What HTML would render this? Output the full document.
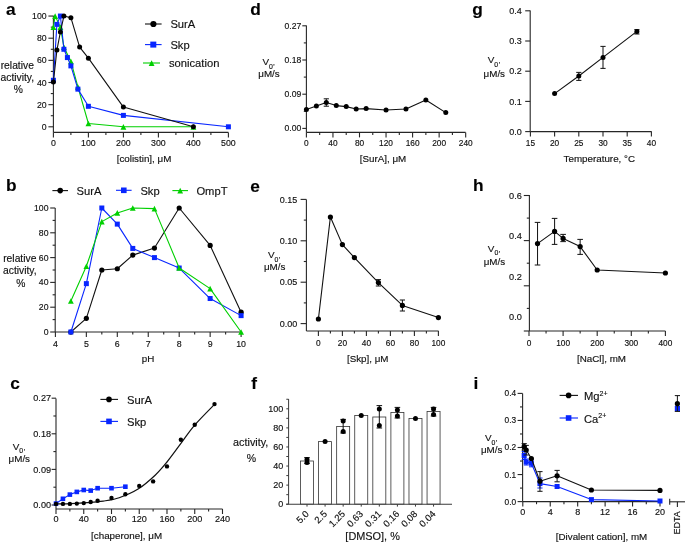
<!DOCTYPE html><html><head><meta charset="utf-8"><style>html,body{margin:0;padding:0;background:#fff;overflow:hidden}svg{display:block;will-change:transform}text{font-family:"Liberation Sans",sans-serif;stroke:#111;stroke-width:0.15px}</style></head><body>
<svg width="685" height="545" viewBox="0 0 685 545">
<rect width="685" height="545" fill="#fff"/>
<text x="5.90" y="15.30" font-size="17.3" text-anchor="start" fill="#000" font-weight="bold" >a</text>
<line x1="53.40" y1="15.80" x2="53.40" y2="132.40" stroke="#262626" stroke-width="1.1"/>
<line x1="48.40" y1="126.80" x2="53.40" y2="126.80" stroke="#262626" stroke-width="1.1"/>
<line x1="48.40" y1="104.65" x2="53.40" y2="104.65" stroke="#262626" stroke-width="1.1"/>
<line x1="48.40" y1="82.50" x2="53.40" y2="82.50" stroke="#262626" stroke-width="1.1"/>
<line x1="48.40" y1="60.35" x2="53.40" y2="60.35" stroke="#262626" stroke-width="1.1"/>
<line x1="48.40" y1="38.20" x2="53.40" y2="38.20" stroke="#262626" stroke-width="1.1"/>
<line x1="48.40" y1="16.05" x2="53.40" y2="16.05" stroke="#262626" stroke-width="1.1"/>
<line x1="50.80" y1="115.72" x2="53.40" y2="115.72" stroke="#262626" stroke-width="1.1"/>
<line x1="50.80" y1="93.58" x2="53.40" y2="93.58" stroke="#262626" stroke-width="1.1"/>
<line x1="50.80" y1="71.42" x2="53.40" y2="71.42" stroke="#262626" stroke-width="1.1"/>
<line x1="50.80" y1="49.28" x2="53.40" y2="49.28" stroke="#262626" stroke-width="1.1"/>
<line x1="50.80" y1="27.12" x2="53.40" y2="27.12" stroke="#262626" stroke-width="1.1"/>
<text x="46.60" y="129.89" font-size="8.7" text-anchor="end" fill="#111" font-weight="normal" >0</text>
<text x="46.60" y="107.74" font-size="8.7" text-anchor="end" fill="#111" font-weight="normal" >20</text>
<text x="46.60" y="85.59" font-size="8.7" text-anchor="end" fill="#111" font-weight="normal" >40</text>
<text x="46.60" y="63.44" font-size="8.7" text-anchor="end" fill="#111" font-weight="normal" >60</text>
<text x="46.60" y="41.29" font-size="8.7" text-anchor="end" fill="#111" font-weight="normal" >80</text>
<text x="46.60" y="19.14" font-size="8.7" text-anchor="end" fill="#111" font-weight="normal" >100</text>
<line x1="53.40" y1="132.40" x2="228.40" y2="132.40" stroke="#262626" stroke-width="1.1"/>
<line x1="53.40" y1="132.40" x2="53.40" y2="137.40" stroke="#262626" stroke-width="1.1"/>
<line x1="88.40" y1="132.40" x2="88.40" y2="137.40" stroke="#262626" stroke-width="1.1"/>
<line x1="123.40" y1="132.40" x2="123.40" y2="137.40" stroke="#262626" stroke-width="1.1"/>
<line x1="158.40" y1="132.40" x2="158.40" y2="137.40" stroke="#262626" stroke-width="1.1"/>
<line x1="193.40" y1="132.40" x2="193.40" y2="137.40" stroke="#262626" stroke-width="1.1"/>
<line x1="228.40" y1="132.40" x2="228.40" y2="137.40" stroke="#262626" stroke-width="1.1"/>
<line x1="70.90" y1="132.40" x2="70.90" y2="135.00" stroke="#262626" stroke-width="1.1"/>
<line x1="105.90" y1="132.40" x2="105.90" y2="135.00" stroke="#262626" stroke-width="1.1"/>
<line x1="140.90" y1="132.40" x2="140.90" y2="135.00" stroke="#262626" stroke-width="1.1"/>
<line x1="175.90" y1="132.40" x2="175.90" y2="135.00" stroke="#262626" stroke-width="1.1"/>
<line x1="210.90" y1="132.40" x2="210.90" y2="135.00" stroke="#262626" stroke-width="1.1"/>
<text x="53.40" y="146.20" font-size="8.8" text-anchor="middle" fill="#111" font-weight="normal" >0</text>
<text x="88.40" y="146.20" font-size="8.8" text-anchor="middle" fill="#111" font-weight="normal" >100</text>
<text x="123.40" y="146.20" font-size="8.8" text-anchor="middle" fill="#111" font-weight="normal" >200</text>
<text x="158.40" y="146.20" font-size="8.8" text-anchor="middle" fill="#111" font-weight="normal" >300</text>
<text x="193.40" y="146.20" font-size="8.8" text-anchor="middle" fill="#111" font-weight="normal" >400</text>
<text x="228.40" y="146.20" font-size="8.8" text-anchor="middle" fill="#111" font-weight="normal" >500</text>
<text x="144.00" y="161.50" font-size="9.8" text-anchor="middle" fill="#111" font-weight="normal" >[colistin], μM</text>
<text x="17.30" y="68.50" font-size="10.3" text-anchor="middle" fill="#111" font-weight="normal" >relative</text>
<text x="17.30" y="80.50" font-size="10.3" text-anchor="middle" fill="#111" font-weight="normal" >activity,</text>
<text x="18.40" y="92.50" font-size="10.3" text-anchor="middle" fill="#111" font-weight="normal" >%</text>
<polyline points="53.40,27.12 55.15,16.05 60.40,27.12 63.90,47.06 70.90,61.46 77.90,86.93 88.40,123.48 123.40,126.80 193.40,126.80" fill="none" stroke="#00d000" stroke-width="1.1" stroke-linejoin="round"/>
<polygon points="53.40,24.28 56.30,29.97 50.50,29.97" fill="#00d000"/>
<polygon points="55.15,13.21 58.05,18.89 52.25,18.89" fill="#00d000"/>
<polygon points="60.40,24.28 63.30,29.97 57.50,29.97" fill="#00d000"/>
<polygon points="63.90,44.22 66.80,49.90 61.00,49.90" fill="#00d000"/>
<polygon points="70.90,58.62 73.80,64.30 68.00,64.30" fill="#00d000"/>
<polygon points="77.90,84.09 80.80,89.77 75.00,89.77" fill="#00d000"/>
<polygon points="88.40,120.64 91.30,126.32 85.50,126.32" fill="#00d000"/>
<polygon points="123.40,123.96 126.30,129.64 120.50,129.64" fill="#00d000"/>
<polygon points="193.40,123.96 196.30,129.64 190.50,129.64" fill="#00d000"/>
<polyline points="53.40,80.28 56.90,24.36 60.40,16.05 63.90,49.28 67.40,57.58 70.90,65.89 77.90,89.14 88.40,106.31 123.40,115.39 228.40,126.80" fill="none" stroke="#0826ff" stroke-width="1.1" stroke-linejoin="round"/>
<rect x="50.90" y="77.78" width="5.0" height="5.0" fill="#0826ff"/>
<rect x="54.40" y="21.86" width="5.0" height="5.0" fill="#0826ff"/>
<rect x="57.90" y="13.55" width="5.0" height="5.0" fill="#0826ff"/>
<rect x="61.40" y="46.78" width="5.0" height="5.0" fill="#0826ff"/>
<rect x="64.90" y="55.08" width="5.0" height="5.0" fill="#0826ff"/>
<rect x="68.40" y="63.39" width="5.0" height="5.0" fill="#0826ff"/>
<rect x="75.40" y="86.64" width="5.0" height="5.0" fill="#0826ff"/>
<rect x="85.90" y="103.81" width="5.0" height="5.0" fill="#0826ff"/>
<rect x="120.90" y="112.89" width="5.0" height="5.0" fill="#0826ff"/>
<rect x="225.90" y="124.30" width="5.0" height="5.0" fill="#0826ff"/>
<polyline points="53.40,81.95 56.90,50.05 60.40,32.00 63.90,16.05 70.90,17.71 79.65,47.06 88.40,58.14 123.40,107.09 193.40,126.80" fill="none" stroke="#111" stroke-width="1.1" stroke-linejoin="round"/>
<circle cx="53.40" cy="81.95" r="2.5" fill="#000"/>
<circle cx="56.90" cy="50.05" r="2.5" fill="#000"/>
<circle cx="60.40" cy="32.00" r="2.5" fill="#000"/>
<circle cx="63.90" cy="16.05" r="2.5" fill="#000"/>
<circle cx="70.90" cy="17.71" r="2.5" fill="#000"/>
<circle cx="79.65" cy="47.06" r="2.5" fill="#000"/>
<circle cx="88.40" cy="58.14" r="2.5" fill="#000"/>
<circle cx="123.40" cy="107.09" r="2.5" fill="#000"/>
<circle cx="193.40" cy="126.80" r="2.5" fill="#000"/>
<line x1="145.00" y1="24.00" x2="161.60" y2="24.00" stroke="#111" stroke-width="1.1"/>
<circle cx="153.40" cy="24.00" r="3.1" fill="#000"/>
<text x="170.40" y="28.10" font-size="11.2" text-anchor="start" fill="#111" font-weight="normal" >SurA</text>
<line x1="145.00" y1="44.60" x2="161.60" y2="44.60" stroke="#0826ff" stroke-width="1.1"/>
<rect x="150.30" y="41.60" width="6.0" height="6.0" fill="#0826ff"/>
<text x="170.40" y="48.70" font-size="11.2" text-anchor="start" fill="#111" font-weight="normal" >Skp</text>
<line x1="143.00" y1="63.00" x2="160.00" y2="63.00" stroke="#00d000" stroke-width="1.1"/>
<polygon points="151.60,60.36 154.50,66.04 148.70,66.04" fill="#00d000"/>
<text x="169.00" y="67.30" font-size="11.2" text-anchor="start" fill="#111" font-weight="normal" >sonication</text>
<text x="5.90" y="190.60" font-size="17.3" text-anchor="start" fill="#000" font-weight="bold" >b</text>
<line x1="55.20" y1="208.00" x2="55.20" y2="332.00" stroke="#262626" stroke-width="1.1"/>
<line x1="50.20" y1="332.00" x2="55.20" y2="332.00" stroke="#262626" stroke-width="1.1"/>
<line x1="50.20" y1="307.20" x2="55.20" y2="307.20" stroke="#262626" stroke-width="1.1"/>
<line x1="50.20" y1="282.40" x2="55.20" y2="282.40" stroke="#262626" stroke-width="1.1"/>
<line x1="50.20" y1="257.60" x2="55.20" y2="257.60" stroke="#262626" stroke-width="1.1"/>
<line x1="50.20" y1="232.80" x2="55.20" y2="232.80" stroke="#262626" stroke-width="1.1"/>
<line x1="50.20" y1="208.00" x2="55.20" y2="208.00" stroke="#262626" stroke-width="1.1"/>
<line x1="52.60" y1="319.60" x2="55.20" y2="319.60" stroke="#262626" stroke-width="1.1"/>
<line x1="52.60" y1="294.80" x2="55.20" y2="294.80" stroke="#262626" stroke-width="1.1"/>
<line x1="52.60" y1="270.00" x2="55.20" y2="270.00" stroke="#262626" stroke-width="1.1"/>
<line x1="52.60" y1="245.20" x2="55.20" y2="245.20" stroke="#262626" stroke-width="1.1"/>
<line x1="52.60" y1="220.40" x2="55.20" y2="220.40" stroke="#262626" stroke-width="1.1"/>
<text x="48.50" y="335.09" font-size="8.7" text-anchor="end" fill="#111" font-weight="normal" >0</text>
<text x="48.50" y="310.29" font-size="8.7" text-anchor="end" fill="#111" font-weight="normal" >20</text>
<text x="48.50" y="285.49" font-size="8.7" text-anchor="end" fill="#111" font-weight="normal" >40</text>
<text x="48.50" y="260.69" font-size="8.7" text-anchor="end" fill="#111" font-weight="normal" >60</text>
<text x="48.50" y="235.89" font-size="8.7" text-anchor="end" fill="#111" font-weight="normal" >80</text>
<text x="48.50" y="211.09" font-size="8.7" text-anchor="end" fill="#111" font-weight="normal" >100</text>
<line x1="55.20" y1="332.00" x2="241.40" y2="332.00" stroke="#262626" stroke-width="1.1"/>
<line x1="55.40" y1="332.00" x2="55.40" y2="337.00" stroke="#262626" stroke-width="1.1"/>
<line x1="86.35" y1="332.00" x2="86.35" y2="337.00" stroke="#262626" stroke-width="1.1"/>
<line x1="117.30" y1="332.00" x2="117.30" y2="337.00" stroke="#262626" stroke-width="1.1"/>
<line x1="148.25" y1="332.00" x2="148.25" y2="337.00" stroke="#262626" stroke-width="1.1"/>
<line x1="179.20" y1="332.00" x2="179.20" y2="337.00" stroke="#262626" stroke-width="1.1"/>
<line x1="210.15" y1="332.00" x2="210.15" y2="337.00" stroke="#262626" stroke-width="1.1"/>
<line x1="241.10" y1="332.00" x2="241.10" y2="337.00" stroke="#262626" stroke-width="1.1"/>
<line x1="70.88" y1="332.00" x2="70.88" y2="334.60" stroke="#262626" stroke-width="1.1"/>
<line x1="101.82" y1="332.00" x2="101.82" y2="334.60" stroke="#262626" stroke-width="1.1"/>
<line x1="132.78" y1="332.00" x2="132.78" y2="334.60" stroke="#262626" stroke-width="1.1"/>
<line x1="163.72" y1="332.00" x2="163.72" y2="334.60" stroke="#262626" stroke-width="1.1"/>
<line x1="194.68" y1="332.00" x2="194.68" y2="334.60" stroke="#262626" stroke-width="1.1"/>
<line x1="225.62" y1="332.00" x2="225.62" y2="334.60" stroke="#262626" stroke-width="1.1"/>
<text x="55.40" y="346.60" font-size="8.8" text-anchor="middle" fill="#111" font-weight="normal" >4</text>
<text x="86.35" y="346.60" font-size="8.8" text-anchor="middle" fill="#111" font-weight="normal" >5</text>
<text x="117.30" y="346.60" font-size="8.8" text-anchor="middle" fill="#111" font-weight="normal" >6</text>
<text x="148.25" y="346.60" font-size="8.8" text-anchor="middle" fill="#111" font-weight="normal" >7</text>
<text x="179.20" y="346.60" font-size="8.8" text-anchor="middle" fill="#111" font-weight="normal" >8</text>
<text x="210.15" y="346.60" font-size="8.8" text-anchor="middle" fill="#111" font-weight="normal" >9</text>
<text x="241.10" y="346.60" font-size="8.8" text-anchor="middle" fill="#111" font-weight="normal" >10</text>
<text x="148.00" y="361.50" font-size="9.8" text-anchor="middle" fill="#111" font-weight="normal" >pH</text>
<text x="19.80" y="261.50" font-size="10.3" text-anchor="middle" fill="#111" font-weight="normal" >relative</text>
<text x="19.80" y="274.00" font-size="10.3" text-anchor="middle" fill="#111" font-weight="normal" >activity,</text>
<text x="20.90" y="286.50" font-size="10.3" text-anchor="middle" fill="#111" font-weight="normal" >%</text>
<polyline points="70.88,332.00 86.35,318.36 101.82,270.00 117.30,268.76 132.78,255.12 154.44,248.05 179.20,208.00 210.15,245.45 241.10,312.16" fill="none" stroke="#111" stroke-width="1.1" stroke-linejoin="round"/>
<circle cx="70.88" cy="332.00" r="2.6" fill="#000"/>
<circle cx="86.35" cy="318.36" r="2.6" fill="#000"/>
<circle cx="101.82" cy="270.00" r="2.6" fill="#000"/>
<circle cx="117.30" cy="268.76" r="2.6" fill="#000"/>
<circle cx="132.78" cy="255.12" r="2.6" fill="#000"/>
<circle cx="154.44" cy="248.05" r="2.6" fill="#000"/>
<circle cx="179.20" cy="208.00" r="2.6" fill="#000"/>
<circle cx="210.15" cy="245.45" r="2.6" fill="#000"/>
<circle cx="241.10" cy="312.16" r="2.6" fill="#000"/>
<polyline points="70.88,332.00 86.35,283.64 101.82,208.00 117.30,224.12 132.78,248.42 154.44,257.60 179.20,268.02 210.15,298.52 241.10,315.63" fill="none" stroke="#0826ff" stroke-width="1.1" stroke-linejoin="round"/>
<rect x="68.38" y="329.50" width="5.0" height="5.0" fill="#0826ff"/>
<rect x="83.85" y="281.14" width="5.0" height="5.0" fill="#0826ff"/>
<rect x="99.32" y="205.50" width="5.0" height="5.0" fill="#0826ff"/>
<rect x="114.80" y="221.62" width="5.0" height="5.0" fill="#0826ff"/>
<rect x="130.28" y="245.92" width="5.0" height="5.0" fill="#0826ff"/>
<rect x="151.94" y="255.10" width="5.0" height="5.0" fill="#0826ff"/>
<rect x="176.70" y="265.52" width="5.0" height="5.0" fill="#0826ff"/>
<rect x="207.65" y="296.02" width="5.0" height="5.0" fill="#0826ff"/>
<rect x="238.60" y="313.13" width="5.0" height="5.0" fill="#0826ff"/>
<polyline points="70.88,301.00 86.35,266.28 101.82,221.64 117.30,212.96 132.78,208.00 154.44,208.62 179.20,268.02 210.15,288.60 241.10,332.00" fill="none" stroke="#00d000" stroke-width="1.1" stroke-linejoin="round"/>
<polygon points="70.88,298.16 73.78,303.84 67.97,303.84" fill="#00d000"/>
<polygon points="86.35,263.44 89.25,269.12 83.45,269.12" fill="#00d000"/>
<polygon points="101.82,218.80 104.72,224.48 98.92,224.48" fill="#00d000"/>
<polygon points="117.30,210.12 120.20,215.80 114.40,215.80" fill="#00d000"/>
<polygon points="132.78,205.16 135.68,210.84 129.88,210.84" fill="#00d000"/>
<polygon points="154.44,205.78 157.34,211.46 151.54,211.46" fill="#00d000"/>
<polygon points="179.20,265.17 182.10,270.86 176.30,270.86" fill="#00d000"/>
<polygon points="210.15,285.76 213.05,291.44 207.25,291.44" fill="#00d000"/>
<polygon points="241.10,329.16 244.00,334.84 238.20,334.84" fill="#00d000"/>
<line x1="52.40" y1="190.60" x2="68.00" y2="190.60" stroke="#111" stroke-width="1.1"/>
<circle cx="60.20" cy="190.60" r="2.8" fill="#000"/>
<text x="76.60" y="194.80" font-size="11.2" text-anchor="start" fill="#111" font-weight="normal" >SurA</text>
<line x1="116.00" y1="190.30" x2="131.60" y2="190.30" stroke="#0826ff" stroke-width="1.1"/>
<rect x="121.00" y="187.50" width="5.6" height="5.6" fill="#0826ff"/>
<text x="140.40" y="194.50" font-size="11.2" text-anchor="start" fill="#111" font-weight="normal" >Skp</text>
<line x1="172.40" y1="190.60" x2="188.00" y2="190.60" stroke="#00d000" stroke-width="1.1"/>
<polygon points="180.20,187.76 183.10,193.44 177.30,193.44" fill="#00d000"/>
<text x="196.40" y="194.80" font-size="11.2" text-anchor="start" fill="#111" font-weight="normal" >OmpT</text>
<text x="10.20" y="388.80" font-size="17.3" text-anchor="start" fill="#000" font-weight="bold" >c</text>
<line x1="56.00" y1="398.40" x2="56.00" y2="509.00" stroke="#262626" stroke-width="1.1"/>
<line x1="51.60" y1="505.00" x2="56.00" y2="505.00" stroke="#262626" stroke-width="1.1"/>
<line x1="51.60" y1="469.40" x2="56.00" y2="469.40" stroke="#262626" stroke-width="1.1"/>
<line x1="51.60" y1="433.79" x2="56.00" y2="433.79" stroke="#262626" stroke-width="1.1"/>
<line x1="51.60" y1="398.19" x2="56.00" y2="398.19" stroke="#262626" stroke-width="1.1"/>
<line x1="53.40" y1="487.20" x2="56.00" y2="487.20" stroke="#262626" stroke-width="1.1"/>
<line x1="53.40" y1="451.59" x2="56.00" y2="451.59" stroke="#262626" stroke-width="1.1"/>
<line x1="53.40" y1="415.99" x2="56.00" y2="415.99" stroke="#262626" stroke-width="1.1"/>
<text x="51.00" y="508.23" font-size="9.1" text-anchor="end" fill="#111" font-weight="normal" >0.00</text>
<text x="51.00" y="472.63" font-size="9.1" text-anchor="end" fill="#111" font-weight="normal" >0.09</text>
<text x="51.00" y="437.02" font-size="9.1" text-anchor="end" fill="#111" font-weight="normal" >0.18</text>
<text x="51.00" y="401.42" font-size="9.1" text-anchor="end" fill="#111" font-weight="normal" >0.27</text>
<line x1="56.00" y1="509.00" x2="222.50" y2="509.00" stroke="#262626" stroke-width="1.1"/>
<line x1="56.00" y1="509.00" x2="56.00" y2="514.00" stroke="#262626" stroke-width="1.1"/>
<line x1="83.75" y1="509.00" x2="83.75" y2="514.00" stroke="#262626" stroke-width="1.1"/>
<line x1="111.50" y1="509.00" x2="111.50" y2="514.00" stroke="#262626" stroke-width="1.1"/>
<line x1="139.24" y1="509.00" x2="139.24" y2="514.00" stroke="#262626" stroke-width="1.1"/>
<line x1="166.99" y1="509.00" x2="166.99" y2="514.00" stroke="#262626" stroke-width="1.1"/>
<line x1="194.74" y1="509.00" x2="194.74" y2="514.00" stroke="#262626" stroke-width="1.1"/>
<line x1="222.49" y1="509.00" x2="222.49" y2="514.00" stroke="#262626" stroke-width="1.1"/>
<line x1="69.87" y1="509.00" x2="69.87" y2="511.60" stroke="#262626" stroke-width="1.1"/>
<line x1="97.62" y1="509.00" x2="97.62" y2="511.60" stroke="#262626" stroke-width="1.1"/>
<line x1="125.37" y1="509.00" x2="125.37" y2="511.60" stroke="#262626" stroke-width="1.1"/>
<line x1="153.12" y1="509.00" x2="153.12" y2="511.60" stroke="#262626" stroke-width="1.1"/>
<line x1="180.87" y1="509.00" x2="180.87" y2="511.60" stroke="#262626" stroke-width="1.1"/>
<line x1="208.61" y1="509.00" x2="208.61" y2="511.60" stroke="#262626" stroke-width="1.1"/>
<text x="56.00" y="521.90" font-size="9.1" text-anchor="middle" fill="#111" font-weight="normal" >0</text>
<text x="83.75" y="521.90" font-size="9.1" text-anchor="middle" fill="#111" font-weight="normal" >40</text>
<text x="111.50" y="521.90" font-size="9.1" text-anchor="middle" fill="#111" font-weight="normal" >80</text>
<text x="139.24" y="521.90" font-size="9.1" text-anchor="middle" fill="#111" font-weight="normal" >120</text>
<text x="166.99" y="521.90" font-size="9.1" text-anchor="middle" fill="#111" font-weight="normal" >160</text>
<text x="194.74" y="521.90" font-size="9.1" text-anchor="middle" fill="#111" font-weight="normal" >200</text>
<text x="222.49" y="521.90" font-size="9.1" text-anchor="middle" fill="#111" font-weight="normal" >240</text>
<text x="126.60" y="539.30" font-size="9.8" text-anchor="middle" fill="#111" font-weight="normal" >[chaperone], μM</text>
<text x="12.70" y="449.90" font-size="9.9" text-anchor="start" fill="#111">V<tspan font-size="6.9" dy="3.3">0</tspan><tspan font-size="6.9" dy="0.5" dx="0.5">'</tspan></text>
<text x="19.30" y="461.90" font-size="9.8" text-anchor="middle" fill="#111" font-weight="normal" >μM/s</text>
<polyline points="56.00,503.60 62.94,498.80 69.87,494.60 76.81,491.90 83.75,490.00 90.69,490.60 97.62,488.20 111.50,488.20 125.37,486.70" fill="none" stroke="#0826ff" stroke-width="1.1" stroke-linejoin="round"/>
<rect x="53.70" y="501.30" width="4.6" height="4.6" fill="#0826ff"/>
<rect x="60.64" y="496.50" width="4.6" height="4.6" fill="#0826ff"/>
<rect x="67.57" y="492.30" width="4.6" height="4.6" fill="#0826ff"/>
<rect x="74.51" y="489.60" width="4.6" height="4.6" fill="#0826ff"/>
<rect x="81.45" y="487.70" width="4.6" height="4.6" fill="#0826ff"/>
<rect x="88.39" y="488.30" width="4.6" height="4.6" fill="#0826ff"/>
<rect x="95.32" y="485.90" width="4.6" height="4.6" fill="#0826ff"/>
<rect x="109.20" y="485.90" width="4.6" height="4.6" fill="#0826ff"/>
<rect x="123.07" y="484.40" width="4.6" height="4.6" fill="#0826ff"/>
<path d="M56.00,503.90 C58.50,503.85 65.82,503.80 71.00,503.60 C76.18,503.40 81.73,503.12 87.10,502.70 C92.47,502.28 97.85,501.93 103.20,501.10 C108.55,500.27 113.32,499.75 119.20,497.70 C125.08,495.65 132.47,492.58 138.50,488.80 C144.53,485.02 150.72,479.38 155.40,475.00 C160.08,470.62 162.28,467.85 166.60,462.50 C170.92,457.15 176.65,449.10 181.30,442.90 C185.95,436.70 188.88,431.80 194.50,425.30 C200.12,418.80 211.58,407.47 215.00,403.90" fill="none" stroke="#111" stroke-width="1.2"/>
<circle cx="56.00" cy="503.90" r="2.2" fill="#000"/>
<circle cx="62.94" cy="503.90" r="2.2" fill="#000"/>
<circle cx="69.87" cy="503.90" r="2.2" fill="#000"/>
<circle cx="76.81" cy="503.60" r="2.2" fill="#000"/>
<circle cx="83.75" cy="503.10" r="2.2" fill="#000"/>
<circle cx="90.69" cy="502.00" r="2.2" fill="#000"/>
<circle cx="97.62" cy="500.70" r="2.2" fill="#000"/>
<circle cx="111.50" cy="498.00" r="2.2" fill="#000"/>
<circle cx="125.37" cy="494.30" r="2.2" fill="#000"/>
<circle cx="139.24" cy="485.90" r="2.2" fill="#000"/>
<circle cx="153.12" cy="481.40" r="2.2" fill="#000"/>
<circle cx="166.99" cy="466.40" r="2.2" fill="#000"/>
<circle cx="180.87" cy="439.80" r="2.2" fill="#000"/>
<circle cx="194.74" cy="424.80" r="2.2" fill="#000"/>
<circle cx="214.51" cy="404.10" r="2.2" fill="#000"/>
<line x1="100.40" y1="399.40" x2="118.00" y2="399.40" stroke="#111" stroke-width="1.1"/>
<circle cx="109.00" cy="399.40" r="2.8" fill="#000"/>
<text x="127.00" y="404.00" font-size="11.2" text-anchor="start" fill="#111" font-weight="normal" >SurA</text>
<line x1="100.40" y1="421.40" x2="118.00" y2="421.40" stroke="#0826ff" stroke-width="1.1"/>
<rect x="106.20" y="418.60" width="5.6" height="5.6" fill="#0826ff"/>
<text x="127.00" y="426.00" font-size="11.2" text-anchor="start" fill="#111" font-weight="normal" >Skp</text>
<text x="250.20" y="15.30" font-size="17.3" text-anchor="start" fill="#000" font-weight="bold" >d</text>
<line x1="306.40" y1="25.60" x2="306.40" y2="132.40" stroke="#262626" stroke-width="1.1"/>
<line x1="302.30" y1="128.40" x2="306.40" y2="128.40" stroke="#262626" stroke-width="1.1"/>
<line x1="302.30" y1="94.20" x2="306.40" y2="94.20" stroke="#262626" stroke-width="1.1"/>
<line x1="302.30" y1="60.00" x2="306.40" y2="60.00" stroke="#262626" stroke-width="1.1"/>
<line x1="302.30" y1="25.80" x2="306.40" y2="25.80" stroke="#262626" stroke-width="1.1"/>
<line x1="303.80" y1="111.30" x2="306.40" y2="111.30" stroke="#262626" stroke-width="1.1"/>
<line x1="303.80" y1="77.10" x2="306.40" y2="77.10" stroke="#262626" stroke-width="1.1"/>
<line x1="303.80" y1="42.90" x2="306.40" y2="42.90" stroke="#262626" stroke-width="1.1"/>
<text x="301.30" y="131.45" font-size="8.6" text-anchor="end" fill="#111" font-weight="normal" >0.00</text>
<text x="301.30" y="97.25" font-size="8.6" text-anchor="end" fill="#111" font-weight="normal" >0.09</text>
<text x="301.30" y="63.05" font-size="8.6" text-anchor="end" fill="#111" font-weight="normal" >0.18</text>
<text x="301.30" y="28.85" font-size="8.6" text-anchor="end" fill="#111" font-weight="normal" >0.27</text>
<line x1="306.40" y1="132.40" x2="465.60" y2="132.40" stroke="#262626" stroke-width="1.1"/>
<line x1="306.40" y1="132.40" x2="306.40" y2="137.40" stroke="#262626" stroke-width="1.1"/>
<line x1="332.95" y1="132.40" x2="332.95" y2="137.40" stroke="#262626" stroke-width="1.1"/>
<line x1="359.50" y1="132.40" x2="359.50" y2="137.40" stroke="#262626" stroke-width="1.1"/>
<line x1="386.04" y1="132.40" x2="386.04" y2="137.40" stroke="#262626" stroke-width="1.1"/>
<line x1="412.59" y1="132.40" x2="412.59" y2="137.40" stroke="#262626" stroke-width="1.1"/>
<line x1="439.14" y1="132.40" x2="439.14" y2="137.40" stroke="#262626" stroke-width="1.1"/>
<line x1="465.69" y1="132.40" x2="465.69" y2="137.40" stroke="#262626" stroke-width="1.1"/>
<line x1="319.67" y1="132.40" x2="319.67" y2="135.00" stroke="#262626" stroke-width="1.1"/>
<line x1="346.22" y1="132.40" x2="346.22" y2="135.00" stroke="#262626" stroke-width="1.1"/>
<line x1="372.77" y1="132.40" x2="372.77" y2="135.00" stroke="#262626" stroke-width="1.1"/>
<line x1="399.32" y1="132.40" x2="399.32" y2="135.00" stroke="#262626" stroke-width="1.1"/>
<line x1="425.87" y1="132.40" x2="425.87" y2="135.00" stroke="#262626" stroke-width="1.1"/>
<line x1="452.41" y1="132.40" x2="452.41" y2="135.00" stroke="#262626" stroke-width="1.1"/>
<text x="306.40" y="146.00" font-size="8.3" text-anchor="middle" fill="#111" font-weight="normal" >0</text>
<text x="332.95" y="146.00" font-size="8.3" text-anchor="middle" fill="#111" font-weight="normal" >40</text>
<text x="359.50" y="146.00" font-size="8.3" text-anchor="middle" fill="#111" font-weight="normal" >80</text>
<text x="386.04" y="146.00" font-size="8.3" text-anchor="middle" fill="#111" font-weight="normal" >120</text>
<text x="412.59" y="146.00" font-size="8.3" text-anchor="middle" fill="#111" font-weight="normal" >160</text>
<text x="439.14" y="146.00" font-size="8.3" text-anchor="middle" fill="#111" font-weight="normal" >200</text>
<text x="465.69" y="146.00" font-size="8.3" text-anchor="middle" fill="#111" font-weight="normal" >240</text>
<text x="383.00" y="161.50" font-size="9.8" text-anchor="middle" fill="#111" font-weight="normal" >[SurA], μM</text>
<text x="262.40" y="65.40" font-size="9.9" text-anchor="start" fill="#111">V<tspan font-size="6.9" dy="3.3">0</tspan><tspan font-size="6.9" dy="0.5" dx="0.5">'</tspan></text>
<text x="269.00" y="76.90" font-size="9.8" text-anchor="middle" fill="#111" font-weight="normal" >μM/s</text>
<polyline points="306.40,109.40 316.36,106.00 326.31,102.40 336.27,105.60 346.22,106.60 356.18,109.00 366.13,108.60 386.04,110.00 405.95,109.00 425.87,100.00 445.78,112.60" fill="none" stroke="#111" stroke-width="1.1" stroke-linejoin="round"/>
<line x1="326.31" y1="98.80" x2="326.31" y2="106.20" stroke="#1a1a1a" stroke-width="1.05"/>
<line x1="323.71" y1="98.80" x2="328.91" y2="98.80" stroke="#1a1a1a" stroke-width="1.05"/>
<line x1="323.71" y1="106.20" x2="328.91" y2="106.20" stroke="#1a1a1a" stroke-width="1.05"/>
<circle cx="306.40" cy="109.40" r="2.5" fill="#000"/>
<circle cx="316.36" cy="106.00" r="2.5" fill="#000"/>
<circle cx="326.31" cy="102.40" r="2.5" fill="#000"/>
<circle cx="336.27" cy="105.60" r="2.5" fill="#000"/>
<circle cx="346.22" cy="106.60" r="2.5" fill="#000"/>
<circle cx="356.18" cy="109.00" r="2.5" fill="#000"/>
<circle cx="366.13" cy="108.60" r="2.5" fill="#000"/>
<circle cx="386.04" cy="110.00" r="2.5" fill="#000"/>
<circle cx="405.95" cy="109.00" r="2.5" fill="#000"/>
<circle cx="425.87" cy="100.00" r="2.5" fill="#000"/>
<circle cx="445.78" cy="112.60" r="2.5" fill="#000"/>
<text x="250.30" y="191.70" font-size="17.3" text-anchor="start" fill="#000" font-weight="bold" >e</text>
<line x1="306.40" y1="199.60" x2="306.40" y2="331.00" stroke="#262626" stroke-width="1.1"/>
<line x1="300.60" y1="323.60" x2="306.40" y2="323.60" stroke="#262626" stroke-width="1.1"/>
<line x1="300.60" y1="282.20" x2="306.40" y2="282.20" stroke="#262626" stroke-width="1.1"/>
<line x1="300.60" y1="240.80" x2="306.40" y2="240.80" stroke="#262626" stroke-width="1.1"/>
<line x1="300.60" y1="199.40" x2="306.40" y2="199.40" stroke="#262626" stroke-width="1.1"/>
<line x1="303.80" y1="302.90" x2="306.40" y2="302.90" stroke="#262626" stroke-width="1.1"/>
<line x1="303.80" y1="261.50" x2="306.40" y2="261.50" stroke="#262626" stroke-width="1.1"/>
<line x1="303.80" y1="220.10" x2="306.40" y2="220.10" stroke="#262626" stroke-width="1.1"/>
<text x="297.30" y="326.80" font-size="9.0" text-anchor="end" fill="#111" font-weight="normal" >0.00</text>
<text x="297.30" y="285.40" font-size="9.0" text-anchor="end" fill="#111" font-weight="normal" >0.05</text>
<text x="297.30" y="244.00" font-size="9.0" text-anchor="end" fill="#111" font-weight="normal" >0.10</text>
<text x="297.30" y="202.59" font-size="9.0" text-anchor="end" fill="#111" font-weight="normal" >0.15</text>
<line x1="306.40" y1="331.00" x2="438.60" y2="331.00" stroke="#262626" stroke-width="1.1"/>
<line x1="318.40" y1="331.00" x2="318.40" y2="336.00" stroke="#262626" stroke-width="1.1"/>
<line x1="342.40" y1="331.00" x2="342.40" y2="336.00" stroke="#262626" stroke-width="1.1"/>
<line x1="366.40" y1="331.00" x2="366.40" y2="336.00" stroke="#262626" stroke-width="1.1"/>
<line x1="390.40" y1="331.00" x2="390.40" y2="336.00" stroke="#262626" stroke-width="1.1"/>
<line x1="414.40" y1="331.00" x2="414.40" y2="336.00" stroke="#262626" stroke-width="1.1"/>
<line x1="438.40" y1="331.00" x2="438.40" y2="336.00" stroke="#262626" stroke-width="1.1"/>
<line x1="330.40" y1="331.00" x2="330.40" y2="333.60" stroke="#262626" stroke-width="1.1"/>
<line x1="354.40" y1="331.00" x2="354.40" y2="333.60" stroke="#262626" stroke-width="1.1"/>
<line x1="378.40" y1="331.00" x2="378.40" y2="333.60" stroke="#262626" stroke-width="1.1"/>
<line x1="402.40" y1="331.00" x2="402.40" y2="333.60" stroke="#262626" stroke-width="1.1"/>
<line x1="426.40" y1="331.00" x2="426.40" y2="333.60" stroke="#262626" stroke-width="1.1"/>
<text x="318.40" y="346.00" font-size="8.3" text-anchor="middle" fill="#111" font-weight="normal" >0</text>
<text x="342.40" y="346.00" font-size="8.3" text-anchor="middle" fill="#111" font-weight="normal" >20</text>
<text x="366.40" y="346.00" font-size="8.3" text-anchor="middle" fill="#111" font-weight="normal" >40</text>
<text x="390.40" y="346.00" font-size="8.3" text-anchor="middle" fill="#111" font-weight="normal" >60</text>
<text x="414.40" y="346.00" font-size="8.3" text-anchor="middle" fill="#111" font-weight="normal" >80</text>
<text x="438.40" y="346.00" font-size="8.3" text-anchor="middle" fill="#111" font-weight="normal" >100</text>
<text x="367.70" y="361.80" font-size="9.8" text-anchor="middle" fill="#111" font-weight="normal" >[Skp], μM</text>
<text x="268.00" y="258.40" font-size="9.9" text-anchor="start" fill="#111">V<tspan font-size="6.9" dy="3.3">0</tspan><tspan font-size="6.9" dy="0.5" dx="0.5">'</tspan></text>
<text x="274.60" y="270.10" font-size="9.8" text-anchor="middle" fill="#111" font-weight="normal" >μM/s</text>
<polyline points="318.40,319.00 330.40,217.00 342.40,244.60 354.40,257.60 378.40,282.60 402.40,305.40 438.40,317.60" fill="none" stroke="#111" stroke-width="1.1" stroke-linejoin="round"/>
<line x1="378.40" y1="279.60" x2="378.40" y2="286.00" stroke="#1a1a1a" stroke-width="1.05"/>
<line x1="375.80" y1="279.60" x2="381.00" y2="279.60" stroke="#1a1a1a" stroke-width="1.05"/>
<line x1="375.80" y1="286.00" x2="381.00" y2="286.00" stroke="#1a1a1a" stroke-width="1.05"/>
<line x1="402.40" y1="300.00" x2="402.40" y2="311.00" stroke="#1a1a1a" stroke-width="1.05"/>
<line x1="399.80" y1="300.00" x2="405.00" y2="300.00" stroke="#1a1a1a" stroke-width="1.05"/>
<line x1="399.80" y1="311.00" x2="405.00" y2="311.00" stroke="#1a1a1a" stroke-width="1.05"/>
<circle cx="318.40" cy="319.00" r="2.6" fill="#000"/>
<circle cx="330.40" cy="217.00" r="2.6" fill="#000"/>
<circle cx="342.40" cy="244.60" r="2.6" fill="#000"/>
<circle cx="354.40" cy="257.60" r="2.6" fill="#000"/>
<circle cx="378.40" cy="282.60" r="2.6" fill="#000"/>
<circle cx="402.40" cy="305.40" r="2.6" fill="#000"/>
<circle cx="438.40" cy="317.60" r="2.6" fill="#000"/>
<text x="251.30" y="388.70" font-size="17.3" text-anchor="start" fill="#000" font-weight="bold" >f</text>
<line x1="288.60" y1="399.00" x2="288.60" y2="504.00" stroke="#3a3a3a" stroke-width="1.0"/>
<line x1="286.30" y1="504.20" x2="288.60" y2="504.20" stroke="#3a3a3a" stroke-width="1.0"/>
<line x1="286.30" y1="485.12" x2="288.60" y2="485.12" stroke="#3a3a3a" stroke-width="1.0"/>
<line x1="286.30" y1="466.04" x2="288.60" y2="466.04" stroke="#3a3a3a" stroke-width="1.0"/>
<line x1="286.30" y1="446.96" x2="288.60" y2="446.96" stroke="#3a3a3a" stroke-width="1.0"/>
<line x1="286.30" y1="427.88" x2="288.60" y2="427.88" stroke="#3a3a3a" stroke-width="1.0"/>
<line x1="286.30" y1="408.80" x2="288.60" y2="408.80" stroke="#3a3a3a" stroke-width="1.0"/>
<line x1="286.30" y1="494.66" x2="288.60" y2="494.66" stroke="#3a3a3a" stroke-width="1.0"/>
<line x1="286.30" y1="475.58" x2="288.60" y2="475.58" stroke="#3a3a3a" stroke-width="1.0"/>
<line x1="286.30" y1="456.50" x2="288.60" y2="456.50" stroke="#3a3a3a" stroke-width="1.0"/>
<line x1="286.30" y1="437.42" x2="288.60" y2="437.42" stroke="#3a3a3a" stroke-width="1.0"/>
<line x1="286.30" y1="418.34" x2="288.60" y2="418.34" stroke="#3a3a3a" stroke-width="1.0"/>
<line x1="286.30" y1="399.26" x2="288.60" y2="399.26" stroke="#3a3a3a" stroke-width="1.0"/>
<text x="283.20" y="507.39" font-size="9.0" text-anchor="end" fill="#111" font-weight="normal" >0</text>
<text x="283.20" y="488.31" font-size="9.0" text-anchor="end" fill="#111" font-weight="normal" >20</text>
<text x="283.20" y="469.23" font-size="9.0" text-anchor="end" fill="#111" font-weight="normal" >40</text>
<text x="283.20" y="450.15" font-size="9.0" text-anchor="end" fill="#111" font-weight="normal" >60</text>
<text x="283.20" y="431.07" font-size="9.0" text-anchor="end" fill="#111" font-weight="normal" >80</text>
<text x="283.20" y="412.00" font-size="9.0" text-anchor="end" fill="#111" font-weight="normal" >100</text>
<line x1="286.10" y1="504.30" x2="452.00" y2="504.30" stroke="#3a3a3a" stroke-width="1.1"/>
<rect x="300.50" y="461.00" width="13" height="43.00" fill="#fff" stroke="#333" stroke-width="0.8"/>
<line x1="307.00" y1="504.30" x2="307.00" y2="506.60" stroke="#3a3a3a" stroke-width="1.0"/>
<text x="309.60" y="514.6" font-size="9.5" text-anchor="end" fill="#111" transform="rotate(-45 309.60 514.6)">5.0</text>
<rect x="318.58" y="441.60" width="13" height="62.40" fill="#fff" stroke="#333" stroke-width="0.8"/>
<line x1="325.08" y1="504.30" x2="325.08" y2="506.60" stroke="#3a3a3a" stroke-width="1.0"/>
<text x="327.68" y="514.6" font-size="9.5" text-anchor="end" fill="#111" transform="rotate(-45 327.68 514.6)">2.5</text>
<rect x="336.66" y="426.40" width="13" height="77.60" fill="#fff" stroke="#333" stroke-width="0.8"/>
<line x1="343.16" y1="504.30" x2="343.16" y2="506.60" stroke="#3a3a3a" stroke-width="1.0"/>
<text x="345.76" y="514.6" font-size="9.5" text-anchor="end" fill="#111" transform="rotate(-45 345.76 514.6)">1.25</text>
<rect x="354.74" y="415.50" width="13" height="88.50" fill="#fff" stroke="#333" stroke-width="0.8"/>
<line x1="361.24" y1="504.30" x2="361.24" y2="506.60" stroke="#3a3a3a" stroke-width="1.0"/>
<text x="363.84" y="514.6" font-size="9.5" text-anchor="end" fill="#111" transform="rotate(-45 363.84 514.6)">0.63</text>
<rect x="372.82" y="417.00" width="13" height="87.00" fill="#fff" stroke="#333" stroke-width="0.8"/>
<line x1="379.32" y1="504.30" x2="379.32" y2="506.60" stroke="#3a3a3a" stroke-width="1.0"/>
<text x="381.92" y="514.6" font-size="9.5" text-anchor="end" fill="#111" transform="rotate(-45 381.92 514.6)">0.31</text>
<rect x="390.90" y="412.40" width="13" height="91.60" fill="#fff" stroke="#333" stroke-width="0.8"/>
<line x1="397.40" y1="504.30" x2="397.40" y2="506.60" stroke="#3a3a3a" stroke-width="1.0"/>
<text x="400.00" y="514.6" font-size="9.5" text-anchor="end" fill="#111" transform="rotate(-45 400.00 514.6)">0.16</text>
<rect x="408.98" y="418.40" width="13" height="85.60" fill="#fff" stroke="#333" stroke-width="0.8"/>
<line x1="415.48" y1="504.30" x2="415.48" y2="506.60" stroke="#3a3a3a" stroke-width="1.0"/>
<text x="418.08" y="514.6" font-size="9.5" text-anchor="end" fill="#111" transform="rotate(-45 418.08 514.6)">0.08</text>
<rect x="427.06" y="411.40" width="13" height="92.60" fill="#fff" stroke="#333" stroke-width="0.8"/>
<line x1="433.56" y1="504.30" x2="433.56" y2="506.60" stroke="#3a3a3a" stroke-width="1.0"/>
<text x="436.16" y="514.6" font-size="9.5" text-anchor="end" fill="#111" transform="rotate(-45 436.16 514.6)">0.04</text>
<line x1="307.00" y1="457.60" x2="307.00" y2="463.60" stroke="#111" stroke-width="1.0"/>
<line x1="304.20" y1="457.60" x2="309.80" y2="457.60" stroke="#111" stroke-width="1.0"/>
<line x1="304.20" y1="463.60" x2="309.80" y2="463.60" stroke="#111" stroke-width="1.0"/>
<line x1="343.16" y1="419.40" x2="343.16" y2="433.00" stroke="#111" stroke-width="1.0"/>
<line x1="340.36" y1="419.40" x2="345.96" y2="419.40" stroke="#111" stroke-width="1.0"/>
<line x1="340.36" y1="433.00" x2="345.96" y2="433.00" stroke="#111" stroke-width="1.0"/>
<line x1="379.32" y1="405.60" x2="379.32" y2="428.00" stroke="#111" stroke-width="1.0"/>
<line x1="376.52" y1="405.60" x2="382.12" y2="405.60" stroke="#111" stroke-width="1.0"/>
<line x1="376.52" y1="428.00" x2="382.12" y2="428.00" stroke="#111" stroke-width="1.0"/>
<line x1="397.40" y1="407.40" x2="397.40" y2="418.00" stroke="#111" stroke-width="1.0"/>
<line x1="394.60" y1="407.40" x2="400.20" y2="407.40" stroke="#111" stroke-width="1.0"/>
<line x1="394.60" y1="418.00" x2="400.20" y2="418.00" stroke="#111" stroke-width="1.0"/>
<line x1="433.56" y1="407.40" x2="433.56" y2="416.00" stroke="#111" stroke-width="1.0"/>
<line x1="430.76" y1="407.40" x2="436.36" y2="407.40" stroke="#111" stroke-width="1.0"/>
<line x1="430.76" y1="416.00" x2="436.36" y2="416.00" stroke="#111" stroke-width="1.0"/>
<circle cx="307.00" cy="459.40" r="2.5" fill="#000"/>
<circle cx="307.00" cy="462.40" r="2.5" fill="#000"/>
<circle cx="325.08" cy="441.60" r="2.5" fill="#000"/>
<circle cx="343.16" cy="421.00" r="2.5" fill="#000"/>
<circle cx="343.16" cy="431.40" r="2.5" fill="#000"/>
<circle cx="361.24" cy="415.50" r="2.5" fill="#000"/>
<circle cx="379.32" cy="409.00" r="2.5" fill="#000"/>
<circle cx="379.32" cy="425.60" r="2.5" fill="#000"/>
<circle cx="397.40" cy="410.00" r="2.5" fill="#000"/>
<circle cx="397.40" cy="416.00" r="2.5" fill="#000"/>
<circle cx="415.48" cy="418.40" r="2.5" fill="#000"/>
<circle cx="433.56" cy="409.00" r="2.5" fill="#000"/>
<circle cx="433.56" cy="414.40" r="2.5" fill="#000"/>
<text x="372.60" y="540.00" font-size="10.9" text-anchor="middle" fill="#111" font-weight="normal" >[DMSO], %</text>
<text x="268.30" y="446.20" font-size="10.8" text-anchor="end" fill="#111" font-weight="normal" >activity,</text>
<text x="251.40" y="461.60" font-size="10.5" text-anchor="middle" fill="#111" font-weight="normal" >%</text>
<text x="472.30" y="15.20" font-size="17.3" text-anchor="start" fill="#000" font-weight="bold" >g</text>
<line x1="530.20" y1="10.40" x2="530.20" y2="131.60" stroke="#262626" stroke-width="1.1"/>
<line x1="525.20" y1="131.60" x2="530.20" y2="131.60" stroke="#262626" stroke-width="1.1"/>
<line x1="525.20" y1="101.40" x2="530.20" y2="101.40" stroke="#262626" stroke-width="1.1"/>
<line x1="525.20" y1="71.20" x2="530.20" y2="71.20" stroke="#262626" stroke-width="1.1"/>
<line x1="525.20" y1="41.00" x2="530.20" y2="41.00" stroke="#262626" stroke-width="1.1"/>
<line x1="525.20" y1="10.80" x2="530.20" y2="10.80" stroke="#262626" stroke-width="1.1"/>
<text x="521.80" y="134.79" font-size="9.0" text-anchor="end" fill="#111" font-weight="normal" >0.0</text>
<text x="521.80" y="104.59" font-size="9.0" text-anchor="end" fill="#111" font-weight="normal" >0.1</text>
<text x="521.80" y="74.39" font-size="9.0" text-anchor="end" fill="#111" font-weight="normal" >0.2</text>
<text x="521.80" y="44.19" font-size="9.0" text-anchor="end" fill="#111" font-weight="normal" >0.3</text>
<text x="521.80" y="13.99" font-size="9.0" text-anchor="end" fill="#111" font-weight="normal" >0.4</text>
<line x1="530.20" y1="131.60" x2="651.60" y2="131.60" stroke="#262626" stroke-width="1.1"/>
<line x1="530.40" y1="131.60" x2="530.40" y2="136.60" stroke="#262626" stroke-width="1.1"/>
<line x1="554.60" y1="131.60" x2="554.60" y2="136.60" stroke="#262626" stroke-width="1.1"/>
<line x1="578.80" y1="131.60" x2="578.80" y2="136.60" stroke="#262626" stroke-width="1.1"/>
<line x1="603.00" y1="131.60" x2="603.00" y2="136.60" stroke="#262626" stroke-width="1.1"/>
<line x1="627.20" y1="131.60" x2="627.20" y2="136.60" stroke="#262626" stroke-width="1.1"/>
<line x1="651.40" y1="131.60" x2="651.40" y2="136.60" stroke="#262626" stroke-width="1.1"/>
<text x="530.40" y="146.00" font-size="8.3" text-anchor="middle" fill="#111" font-weight="normal" >15</text>
<text x="554.60" y="146.00" font-size="8.3" text-anchor="middle" fill="#111" font-weight="normal" >20</text>
<text x="578.80" y="146.00" font-size="8.3" text-anchor="middle" fill="#111" font-weight="normal" >25</text>
<text x="603.00" y="146.00" font-size="8.3" text-anchor="middle" fill="#111" font-weight="normal" >30</text>
<text x="627.20" y="146.00" font-size="8.3" text-anchor="middle" fill="#111" font-weight="normal" >35</text>
<text x="651.40" y="146.00" font-size="8.3" text-anchor="middle" fill="#111" font-weight="normal" >40</text>
<text x="599.30" y="161.60" font-size="9.8" text-anchor="middle" fill="#111" font-weight="normal" >Temperature, °C</text>
<text x="487.70" y="63.40" font-size="9.9" text-anchor="start" fill="#111">V<tspan font-size="6.9" dy="3.3">0</tspan><tspan font-size="6.9" dy="0.5" dx="0.5">'</tspan></text>
<text x="494.30" y="76.50" font-size="9.8" text-anchor="middle" fill="#111" font-weight="normal" >μM/s</text>
<polyline points="554.60,93.60 578.80,76.00 603.00,57.40 636.88,31.40" fill="none" stroke="#111" stroke-width="1.1" stroke-linejoin="round"/>
<line x1="578.80" y1="72.40" x2="578.80" y2="80.40" stroke="#1a1a1a" stroke-width="1.05"/>
<line x1="576.20" y1="72.40" x2="581.40" y2="72.40" stroke="#1a1a1a" stroke-width="1.05"/>
<line x1="576.20" y1="80.40" x2="581.40" y2="80.40" stroke="#1a1a1a" stroke-width="1.05"/>
<line x1="603.00" y1="46.40" x2="603.00" y2="68.40" stroke="#1a1a1a" stroke-width="1.05"/>
<line x1="600.40" y1="46.40" x2="605.60" y2="46.40" stroke="#1a1a1a" stroke-width="1.05"/>
<line x1="600.40" y1="68.40" x2="605.60" y2="68.40" stroke="#1a1a1a" stroke-width="1.05"/>
<line x1="636.88" y1="29.60" x2="636.88" y2="34.00" stroke="#1a1a1a" stroke-width="1.05"/>
<line x1="634.28" y1="29.60" x2="639.48" y2="29.60" stroke="#1a1a1a" stroke-width="1.05"/>
<line x1="634.28" y1="34.00" x2="639.48" y2="34.00" stroke="#1a1a1a" stroke-width="1.05"/>
<circle cx="554.60" cy="93.60" r="2.5" fill="#000"/>
<circle cx="578.80" cy="76.00" r="2.5" fill="#000"/>
<circle cx="603.00" cy="57.40" r="2.5" fill="#000"/>
<circle cx="636.88" cy="31.40" r="2.5" fill="#000"/>
<text x="472.90" y="190.70" font-size="17.3" text-anchor="start" fill="#000" font-weight="bold" >h</text>
<line x1="529.40" y1="195.00" x2="529.40" y2="331.00" stroke="#262626" stroke-width="1.1"/>
<line x1="523.80" y1="195.50" x2="529.40" y2="195.50" stroke="#262626" stroke-width="1.1"/>
<line x1="523.80" y1="240.60" x2="529.40" y2="240.60" stroke="#262626" stroke-width="1.1"/>
<line x1="523.80" y1="285.80" x2="529.40" y2="285.80" stroke="#262626" stroke-width="1.1"/>
<line x1="523.80" y1="331.00" x2="529.40" y2="331.00" stroke="#262626" stroke-width="1.1"/>
<line x1="526.80" y1="218.10" x2="529.40" y2="218.10" stroke="#262626" stroke-width="1.1"/>
<line x1="526.80" y1="263.20" x2="529.40" y2="263.20" stroke="#262626" stroke-width="1.1"/>
<line x1="526.80" y1="308.40" x2="529.40" y2="308.40" stroke="#262626" stroke-width="1.1"/>
<text x="521.80" y="199.27" font-size="9.2" text-anchor="end" fill="#111" font-weight="normal" >0.6</text>
<text x="521.80" y="239.27" font-size="9.2" text-anchor="end" fill="#111" font-weight="normal" >0.4</text>
<text x="521.80" y="279.67" font-size="9.2" text-anchor="end" fill="#111" font-weight="normal" >0.2</text>
<text x="521.80" y="320.07" font-size="9.2" text-anchor="end" fill="#111" font-weight="normal" >0.0</text>
<line x1="529.40" y1="331.00" x2="665.40" y2="331.00" stroke="#262626" stroke-width="1.1"/>
<line x1="529.00" y1="331.00" x2="529.00" y2="336.00" stroke="#262626" stroke-width="1.1"/>
<line x1="563.10" y1="331.00" x2="563.10" y2="336.00" stroke="#262626" stroke-width="1.1"/>
<line x1="597.20" y1="331.00" x2="597.20" y2="336.00" stroke="#262626" stroke-width="1.1"/>
<line x1="631.30" y1="331.00" x2="631.30" y2="336.00" stroke="#262626" stroke-width="1.1"/>
<line x1="665.40" y1="331.00" x2="665.40" y2="336.00" stroke="#262626" stroke-width="1.1"/>
<line x1="546.05" y1="331.00" x2="546.05" y2="333.60" stroke="#262626" stroke-width="1.1"/>
<line x1="580.15" y1="331.00" x2="580.15" y2="333.60" stroke="#262626" stroke-width="1.1"/>
<line x1="614.25" y1="331.00" x2="614.25" y2="333.60" stroke="#262626" stroke-width="1.1"/>
<line x1="648.35" y1="331.00" x2="648.35" y2="333.60" stroke="#262626" stroke-width="1.1"/>
<text x="529.00" y="346.00" font-size="8.3" text-anchor="middle" fill="#111" font-weight="normal" >0</text>
<text x="563.10" y="346.00" font-size="8.3" text-anchor="middle" fill="#111" font-weight="normal" >100</text>
<text x="597.20" y="346.00" font-size="8.3" text-anchor="middle" fill="#111" font-weight="normal" >200</text>
<text x="631.30" y="346.00" font-size="8.3" text-anchor="middle" fill="#111" font-weight="normal" >300</text>
<text x="665.40" y="346.00" font-size="8.3" text-anchor="middle" fill="#111" font-weight="normal" >400</text>
<text x="601.50" y="361.70" font-size="9.8" text-anchor="middle" fill="#111" font-weight="normal" >[NaCl], mM</text>
<text x="487.80" y="252.00" font-size="9.9" text-anchor="start" fill="#111">V<tspan font-size="6.9" dy="3.3">0</tspan><tspan font-size="6.9" dy="0.5" dx="0.5">'</tspan></text>
<text x="494.40" y="264.50" font-size="9.8" text-anchor="middle" fill="#111" font-weight="normal" >μM/s</text>
<polyline points="537.52,243.60 554.58,231.40 563.10,238.40 580.15,246.60 597.20,270.00 665.40,273.00" fill="none" stroke="#111" stroke-width="1.1" stroke-linejoin="round"/>
<line x1="537.52" y1="222.40" x2="537.52" y2="265.00" stroke="#1a1a1a" stroke-width="1.05"/>
<line x1="534.73" y1="222.40" x2="540.32" y2="222.40" stroke="#1a1a1a" stroke-width="1.05"/>
<line x1="534.73" y1="265.00" x2="540.32" y2="265.00" stroke="#1a1a1a" stroke-width="1.05"/>
<line x1="554.58" y1="218.40" x2="554.58" y2="244.40" stroke="#1a1a1a" stroke-width="1.05"/>
<line x1="551.78" y1="218.40" x2="557.38" y2="218.40" stroke="#1a1a1a" stroke-width="1.05"/>
<line x1="551.78" y1="244.40" x2="557.38" y2="244.40" stroke="#1a1a1a" stroke-width="1.05"/>
<line x1="563.10" y1="234.40" x2="563.10" y2="241.60" stroke="#1a1a1a" stroke-width="1.05"/>
<line x1="560.30" y1="234.40" x2="565.90" y2="234.40" stroke="#1a1a1a" stroke-width="1.05"/>
<line x1="560.30" y1="241.60" x2="565.90" y2="241.60" stroke="#1a1a1a" stroke-width="1.05"/>
<line x1="580.15" y1="239.40" x2="580.15" y2="254.40" stroke="#1a1a1a" stroke-width="1.05"/>
<line x1="577.35" y1="239.40" x2="582.95" y2="239.40" stroke="#1a1a1a" stroke-width="1.05"/>
<line x1="577.35" y1="254.40" x2="582.95" y2="254.40" stroke="#1a1a1a" stroke-width="1.05"/>
<circle cx="537.52" cy="243.60" r="2.6" fill="#000"/>
<circle cx="554.58" cy="231.40" r="2.6" fill="#000"/>
<circle cx="563.10" cy="238.40" r="2.6" fill="#000"/>
<circle cx="580.15" cy="246.60" r="2.6" fill="#000"/>
<circle cx="597.20" cy="270.00" r="2.6" fill="#000"/>
<circle cx="665.40" cy="273.00" r="2.6" fill="#000"/>
<text x="473.50" y="388.50" font-size="17.3" text-anchor="start" fill="#000" font-weight="bold" >i</text>
<line x1="522.60" y1="393.40" x2="522.60" y2="501.60" stroke="#262626" stroke-width="1.1"/>
<line x1="517.60" y1="501.60" x2="522.60" y2="501.60" stroke="#262626" stroke-width="1.1"/>
<line x1="517.60" y1="474.55" x2="522.60" y2="474.55" stroke="#262626" stroke-width="1.1"/>
<line x1="517.60" y1="447.50" x2="522.60" y2="447.50" stroke="#262626" stroke-width="1.1"/>
<line x1="517.60" y1="420.45" x2="522.60" y2="420.45" stroke="#262626" stroke-width="1.1"/>
<line x1="517.60" y1="393.40" x2="522.60" y2="393.40" stroke="#262626" stroke-width="1.1"/>
<line x1="520.00" y1="488.08" x2="522.60" y2="488.08" stroke="#262626" stroke-width="1.1"/>
<line x1="520.00" y1="461.03" x2="522.60" y2="461.03" stroke="#262626" stroke-width="1.1"/>
<line x1="520.00" y1="433.98" x2="522.60" y2="433.98" stroke="#262626" stroke-width="1.1"/>
<line x1="520.00" y1="406.93" x2="522.60" y2="406.93" stroke="#262626" stroke-width="1.1"/>
<text x="516.10" y="504.55" font-size="8.3" text-anchor="end" fill="#111" font-weight="normal" >0.0</text>
<text x="516.10" y="477.50" font-size="8.3" text-anchor="end" fill="#111" font-weight="normal" >0.1</text>
<text x="516.10" y="450.45" font-size="8.3" text-anchor="end" fill="#111" font-weight="normal" >0.2</text>
<text x="516.10" y="423.40" font-size="8.3" text-anchor="end" fill="#111" font-weight="normal" >0.3</text>
<text x="516.10" y="396.35" font-size="8.3" text-anchor="end" fill="#111" font-weight="normal" >0.4</text>
<line x1="522.60" y1="501.60" x2="660.40" y2="501.60" stroke="#262626" stroke-width="1.1"/>
<line x1="522.80" y1="501.60" x2="522.80" y2="506.60" stroke="#262626" stroke-width="1.1"/>
<line x1="550.24" y1="501.60" x2="550.24" y2="506.60" stroke="#262626" stroke-width="1.1"/>
<line x1="577.68" y1="501.60" x2="577.68" y2="506.60" stroke="#262626" stroke-width="1.1"/>
<line x1="605.12" y1="501.60" x2="605.12" y2="506.60" stroke="#262626" stroke-width="1.1"/>
<line x1="632.56" y1="501.60" x2="632.56" y2="506.60" stroke="#262626" stroke-width="1.1"/>
<line x1="660.00" y1="501.60" x2="660.00" y2="506.60" stroke="#262626" stroke-width="1.1"/>
<line x1="536.52" y1="501.60" x2="536.52" y2="504.20" stroke="#262626" stroke-width="1.1"/>
<line x1="563.96" y1="501.60" x2="563.96" y2="504.20" stroke="#262626" stroke-width="1.1"/>
<line x1="591.40" y1="501.60" x2="591.40" y2="504.20" stroke="#262626" stroke-width="1.1"/>
<line x1="618.84" y1="501.60" x2="618.84" y2="504.20" stroke="#262626" stroke-width="1.1"/>
<line x1="646.28" y1="501.60" x2="646.28" y2="504.20" stroke="#262626" stroke-width="1.1"/>
<text x="522.80" y="514.50" font-size="9.0" text-anchor="middle" fill="#111" font-weight="normal" >0</text>
<text x="550.24" y="514.50" font-size="9.0" text-anchor="middle" fill="#111" font-weight="normal" >4</text>
<text x="577.68" y="514.50" font-size="9.0" text-anchor="middle" fill="#111" font-weight="normal" >8</text>
<text x="605.12" y="514.50" font-size="9.0" text-anchor="middle" fill="#111" font-weight="normal" >12</text>
<text x="632.56" y="514.50" font-size="9.0" text-anchor="middle" fill="#111" font-weight="normal" >16</text>
<text x="660.00" y="514.50" font-size="9.0" text-anchor="middle" fill="#111" font-weight="normal" >20</text>
<line x1="669.70" y1="501.80" x2="685.00" y2="501.80" stroke="#262626" stroke-width="1.1"/>
<line x1="669.70" y1="498.80" x2="669.70" y2="504.80" stroke="#262626" stroke-width="1.1"/>
<line x1="677.40" y1="501.80" x2="677.40" y2="507.00" stroke="#262626" stroke-width="1.1"/>
<text x="680.2" y="534.6" font-size="9.0" text-anchor="start" fill="#111" transform="rotate(-90 680.2 534.6)">EDTA</text>
<text x="601.50" y="539.50" font-size="9.8" text-anchor="middle" fill="#111" font-weight="normal" >[Divalent cation], mM</text>
<text x="485.00" y="441.20" font-size="9.9" text-anchor="start" fill="#111">V<tspan font-size="6.9" dy="3.3">0</tspan><tspan font-size="6.9" dy="0.5" dx="0.5">'</tspan></text>
<text x="491.60" y="452.70" font-size="9.8" text-anchor="middle" fill="#111" font-weight="normal" >μM/s</text>
<polyline points="524.17,455.50 526.23,462.00 531.38,463.30 539.95,483.60 557.10,486.50 591.40,499.60 660.00,501.00" fill="none" stroke="#0826ff" stroke-width="1.1" stroke-linejoin="round"/>
<rect x="521.67" y="453.00" width="5.0" height="5.0" fill="#0826ff"/>
<rect x="523.73" y="459.50" width="5.0" height="5.0" fill="#0826ff"/>
<rect x="528.88" y="460.80" width="5.0" height="5.0" fill="#0826ff"/>
<rect x="537.45" y="481.10" width="5.0" height="5.0" fill="#0826ff"/>
<rect x="554.60" y="484.00" width="5.0" height="5.0" fill="#0826ff"/>
<rect x="588.90" y="497.10" width="5.0" height="5.0" fill="#0826ff"/>
<rect x="657.50" y="498.50" width="5.0" height="5.0" fill="#0826ff"/>
<line x1="539.95" y1="478.00" x2="539.95" y2="488.00" stroke="#0826ff" stroke-width="1.0"/>
<line x1="537.35" y1="478.00" x2="542.55" y2="478.00" stroke="#0826ff" stroke-width="1.0"/>
<line x1="537.35" y1="488.00" x2="542.55" y2="488.00" stroke="#0826ff" stroke-width="1.0"/>
<line x1="524.17" y1="451.50" x2="524.17" y2="459.50" stroke="#0826ff" stroke-width="1.0"/>
<line x1="521.77" y1="451.50" x2="526.57" y2="451.50" stroke="#0826ff" stroke-width="1.0"/>
<line x1="521.77" y1="459.50" x2="526.57" y2="459.50" stroke="#0826ff" stroke-width="1.0"/>
<line x1="526.23" y1="459.00" x2="526.23" y2="465.00" stroke="#0826ff" stroke-width="1.0"/>
<line x1="523.83" y1="459.00" x2="528.63" y2="459.00" stroke="#0826ff" stroke-width="1.0"/>
<line x1="523.83" y1="465.00" x2="528.63" y2="465.00" stroke="#0826ff" stroke-width="1.0"/>
<line x1="531.38" y1="460.00" x2="531.38" y2="466.80" stroke="#0826ff" stroke-width="1.0"/>
<line x1="528.98" y1="460.00" x2="533.77" y2="460.00" stroke="#0826ff" stroke-width="1.0"/>
<line x1="528.98" y1="466.80" x2="533.77" y2="466.80" stroke="#0826ff" stroke-width="1.0"/>
<polyline points="524.17,446.60 526.23,450.00 531.38,458.50 539.95,481.20 557.10,475.80 591.40,490.00 660.00,490.40" fill="none" stroke="#111" stroke-width="1.1" stroke-linejoin="round"/>
<line x1="524.17" y1="443.60" x2="524.17" y2="450.00" stroke="#1a1a1a" stroke-width="1.05"/>
<line x1="521.57" y1="443.60" x2="526.77" y2="443.60" stroke="#1a1a1a" stroke-width="1.05"/>
<line x1="521.57" y1="450.00" x2="526.77" y2="450.00" stroke="#1a1a1a" stroke-width="1.05"/>
<line x1="526.23" y1="445.40" x2="526.23" y2="455.00" stroke="#1a1a1a" stroke-width="1.05"/>
<line x1="523.63" y1="445.40" x2="528.83" y2="445.40" stroke="#1a1a1a" stroke-width="1.05"/>
<line x1="523.63" y1="455.00" x2="528.83" y2="455.00" stroke="#1a1a1a" stroke-width="1.05"/>
<line x1="539.95" y1="471.60" x2="539.95" y2="491.30" stroke="#1a1a1a" stroke-width="1.05"/>
<line x1="537.35" y1="471.60" x2="542.55" y2="471.60" stroke="#1a1a1a" stroke-width="1.05"/>
<line x1="537.35" y1="491.30" x2="542.55" y2="491.30" stroke="#1a1a1a" stroke-width="1.05"/>
<line x1="557.10" y1="470.40" x2="557.10" y2="481.80" stroke="#1a1a1a" stroke-width="1.05"/>
<line x1="554.50" y1="470.40" x2="559.70" y2="470.40" stroke="#1a1a1a" stroke-width="1.05"/>
<line x1="554.50" y1="481.80" x2="559.70" y2="481.80" stroke="#1a1a1a" stroke-width="1.05"/>
<circle cx="524.17" cy="446.60" r="2.6" fill="#000"/>
<circle cx="526.23" cy="450.00" r="2.6" fill="#000"/>
<circle cx="531.38" cy="458.50" r="2.6" fill="#000"/>
<circle cx="539.95" cy="481.20" r="2.6" fill="#000"/>
<circle cx="557.10" cy="475.80" r="2.6" fill="#000"/>
<circle cx="591.40" cy="490.00" r="2.6" fill="#000"/>
<circle cx="660.00" cy="490.40" r="2.6" fill="#000"/>
<rect x="674.80" y="406.00" width="5.2" height="5.2" fill="#0826ff"/>
<line x1="677.40" y1="395.60" x2="677.40" y2="411.40" stroke="#1a1a1a" stroke-width="1.05"/>
<line x1="674.80" y1="395.60" x2="680.00" y2="395.60" stroke="#1a1a1a" stroke-width="1.05"/>
<line x1="674.80" y1="411.40" x2="680.00" y2="411.40" stroke="#1a1a1a" stroke-width="1.05"/>
<circle cx="677.40" cy="403.70" r="2.6" fill="#000"/>
<line x1="559.60" y1="395.40" x2="578.00" y2="395.40" stroke="#111" stroke-width="1.1"/>
<circle cx="568.60" cy="395.40" r="2.8" fill="#000"/>
<text x="584" y="400" font-size="11.2" fill="#111">Mg<tspan font-size="7" dy="-4.5">2+</tspan></text>
<line x1="559.60" y1="418.00" x2="578.00" y2="418.00" stroke="#0826ff" stroke-width="1.1"/>
<rect x="565.80" y="415.20" width="5.6" height="5.6" fill="#0826ff"/>
<text x="584" y="422.5" font-size="11.2" fill="#111">Ca<tspan font-size="7" dy="-4.5">2+</tspan></text>
</svg></body></html>
